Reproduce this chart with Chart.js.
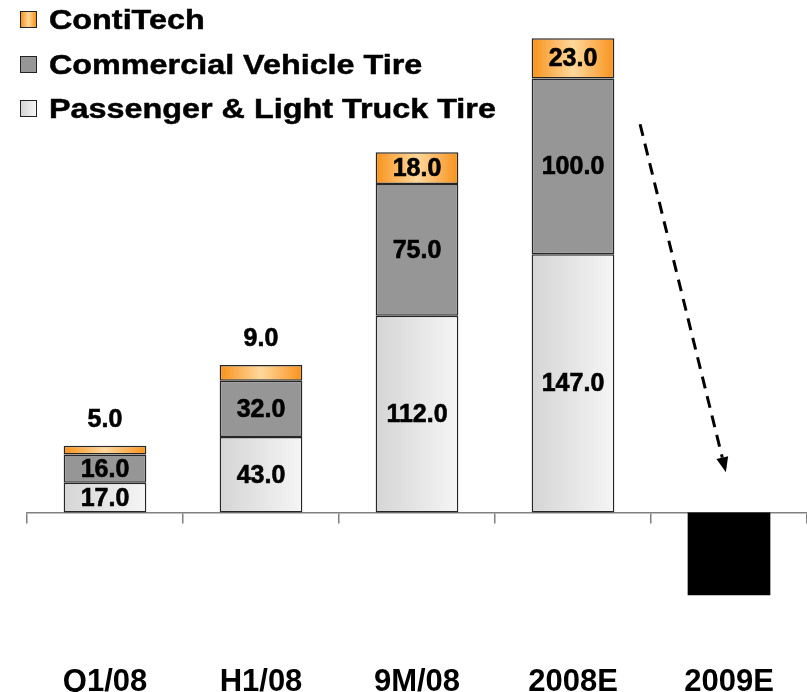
<!DOCTYPE html>
<html><head>
<meta charset="UTF-8">
<title>Segment EBIT by division</title>
<script src="https://cdn.jsdelivr.net/npm/chart.js"></script>
<style>
    body { margin: 0; background: #fff; overflow: hidden; font-family: 'Liberation Sans', Arial, sans-serif; }
    #wrap { position: relative; width: 807px; height: 692px; }
    #legend { position: absolute; left: 20px; top: -2px; font-weight: bold; font-size: 28px; line-height: 44.5px; color: #000; }
    .row { white-space: nowrap; }
    .box { display: inline-block; width: 17px; height: 17px; box-sizing: border-box; border: 1.5px solid #222; vertical-align: 1px; margin-right: 12px; }
    .txt { display: inline-block; transform: scaleX(1.155); transform-origin: left center; -webkit-text-stroke: 0.5px #000; }
</style>
</head>
<body>
<div id="wrap">
    <canvas id="myChart"></canvas>
    <div id="legend"></div>
</div>
<script>
    const categories = ['Q1/08', 'H1/08', '9M/08', '2008E', '2009E'];
    const passenger = [17.0, 43.0, 112.0, 147.0, null];
    const commercial = [16.0, 32.0, 75.0, 100.0, null];
    const contitech = [5.0, 9.0, 18.0, 23.0, null];
    const outlook2009 = [null, null, null, null, -47];
    const seriesNames = ['Passenger & Light Truck Tire', 'Commercial Vehicle Tire', 'ContiTech'];

    const Y_MIN = -85.6, Y_MAX = 291.7;
    const BAR_FRACTION = 0.53;
    // dashed trend arrow, in (category index, value) units
    const arrowFrom = [3.43, 221];
    const arrowTo = [3.98, 23];

    const lightStops = ['#d5d5d5', '#f5f5f5'];
    const grayStops = ['#969696', '#969696'];
    const orangeStops = ['#f8921c', '#ffd89c', '#f8921c'];

    function barGradient(stops) {
        return function (c) {
            const xs = c.chart.scales.x;
            if (c.type !== 'data' || !xs || !xs.width) return stops[stops.length > 2 ? 1 : 0];
            const cx = xs.getPixelForValue(c.dataIndex);
            const half = xs.width / categories.length * BAR_FRACTION / 2;
            const g = c.chart.ctx.createLinearGradient(cx - half, 0, cx + half, 0);
            stops.forEach((col, i) => g.addColorStop(i / (stops.length - 1), col));
            return g;
        };
    }

    const cssGrad = s => 'linear-gradient(to right, ' + s.join(', ') + ')';

    // legend (top to bottom: ContiTech first)
    const legendItems = [
        [seriesNames[2], orangeStops],
        [seriesNames[1], grayStops],
        [seriesNames[0], lightStops]
    ];
    document.getElementById('legend').innerHTML = legendItems.map(([name, stops]) =>
        '<div class="row"><span class="box" style="background:' + cssGrad(stops) + '"></span><span class="txt"></span></div>'
    ).join('');
    document.querySelectorAll('#legend .txt').forEach((el, i) => { el.textContent = legendItems[i][0]; });

    const valueLabels = {
        id: 'valueLabels',
        afterDatasetsDraw(chart) {
            const ctx = chart.ctx;
            ctx.save();
            ctx.font = 'bold 25px "Liberation Sans", Arial, sans-serif';
            ctx.fillStyle = '#000';
            ctx.strokeStyle = '#000';
            ctx.lineWidth = 0.6;
            ctx.textAlign = 'center';
            ctx.textBaseline = 'middle';
            [0, 1, 2].forEach(di => {
                const meta = chart.getDatasetMeta(di);
                const data = chart.data.datasets[di].data;
                meta.data.forEach((el, i) => {
                    const v = data[i];
                    if (v == null) return;
                    const h = Math.abs(el.base - el.y);
                    const y = h >= 24 ? (el.y + el.base) / 2 : el.y - 27;
                    ctx.fillText(v.toFixed(1), el.x, y + 1);
                    ctx.strokeText(v.toFixed(1), el.x, y + 1);
                });
            });
            ctx.restore();
        }
    };

    const trendArrow = {
        id: 'trendArrow',
        afterDatasetsDraw(chart) {
            const xs = chart.scales.x, ys = chart.scales.y, ctx = chart.ctx;
            const x1 = xs.getPixelForValue(arrowFrom[0]), y1 = ys.getPixelForValue(arrowFrom[1]);
            const x2 = xs.getPixelForValue(arrowTo[0]), y2 = ys.getPixelForValue(arrowTo[1]);
            const ang = Math.atan2(y2 - y1, x2 - x1);
            const headLen = 15, headW = 6;
            const bx = x2 - headLen * Math.cos(ang), by = y2 - headLen * Math.sin(ang);
            ctx.save();
            ctx.strokeStyle = '#000';
            ctx.lineWidth = 3;
            ctx.setLineDash([12, 8]);
            ctx.beginPath();
            ctx.moveTo(x1, y1);
            ctx.lineTo(bx, by);
            ctx.stroke();
            ctx.setLineDash([]);
            ctx.fillStyle = '#000';
            ctx.beginPath();
            ctx.moveTo(x2, y2);
            ctx.lineTo(bx + headW * Math.sin(ang), by - headW * Math.cos(ang));
            ctx.lineTo(bx - headW * Math.sin(ang), by + headW * Math.cos(ang));
            ctx.closePath();
            ctx.fill();
            ctx.restore();
        }
    };

    Chart.defaults.font.family = '"Liberation Sans", Arial, sans-serif';

    const barStyle = {
        xAxisID: 'x',
        borderColor: '#262626',
        borderWidth: 1.5,
        borderSkipped: false,
        categoryPercentage: 1,
        barPercentage: BAR_FRACTION
    };

    const ctx = document.getElementById('myChart').getContext('2d');
    new Chart(ctx, {
        type: 'bar',
        data: {
            labels: categories,
            datasets: [
                Object.assign({ label: seriesNames[0], data: passenger, backgroundColor: barGradient(lightStops) }, barStyle),
                Object.assign({ label: seriesNames[1], data: commercial, backgroundColor: barGradient(grayStops) }, barStyle),
                Object.assign({ label: seriesNames[2], data: contitech, backgroundColor: barGradient(orangeStops) }, barStyle),
                Object.assign({}, barStyle, { label: '2009E', data: outlook2009, backgroundColor: '#000', borderWidth: 0 })
            ]
        },
        options: {
            responsive: true,
            maintainAspectRatio: false,
            animation: false,
            layout: { padding: { left: 27, right: 0, top: 0, bottom: -10 } },
            plugins: {
                legend: { display: false },
                tooltip: { enabled: false }
            },
            scales: {
                x: {
                    stacked: true,
                    position: 'bottom',
                    grid: { display: false, drawTicks: false },
                    border: { display: false },
                    ticks: {
                        color: '#000',
                        padding: 8,
                        maxRotation: 0,
                        autoSkip: false,
                        font: { size: 31, weight: 'bold', lineHeight: '23px' }
                    }
                },
                xz: {
                    type: 'category',
                    position: { y: 0 },
                    offset: true,
                    grid: { offset: true, drawOnChartArea: false, drawTicks: true, tickLength: 10, color: '#808080', lineWidth: 1.5 },
                    border: { display: true, color: '#808080', width: 1.5 },
                    ticks: { display: false }
                },
                y: {
                    stacked: true,
                    display: false,
                    min: Y_MIN,
                    max: Y_MAX
                }
            }
        },
        plugins: [valueLabels, trendArrow]
    });
</script>
</body></html>
